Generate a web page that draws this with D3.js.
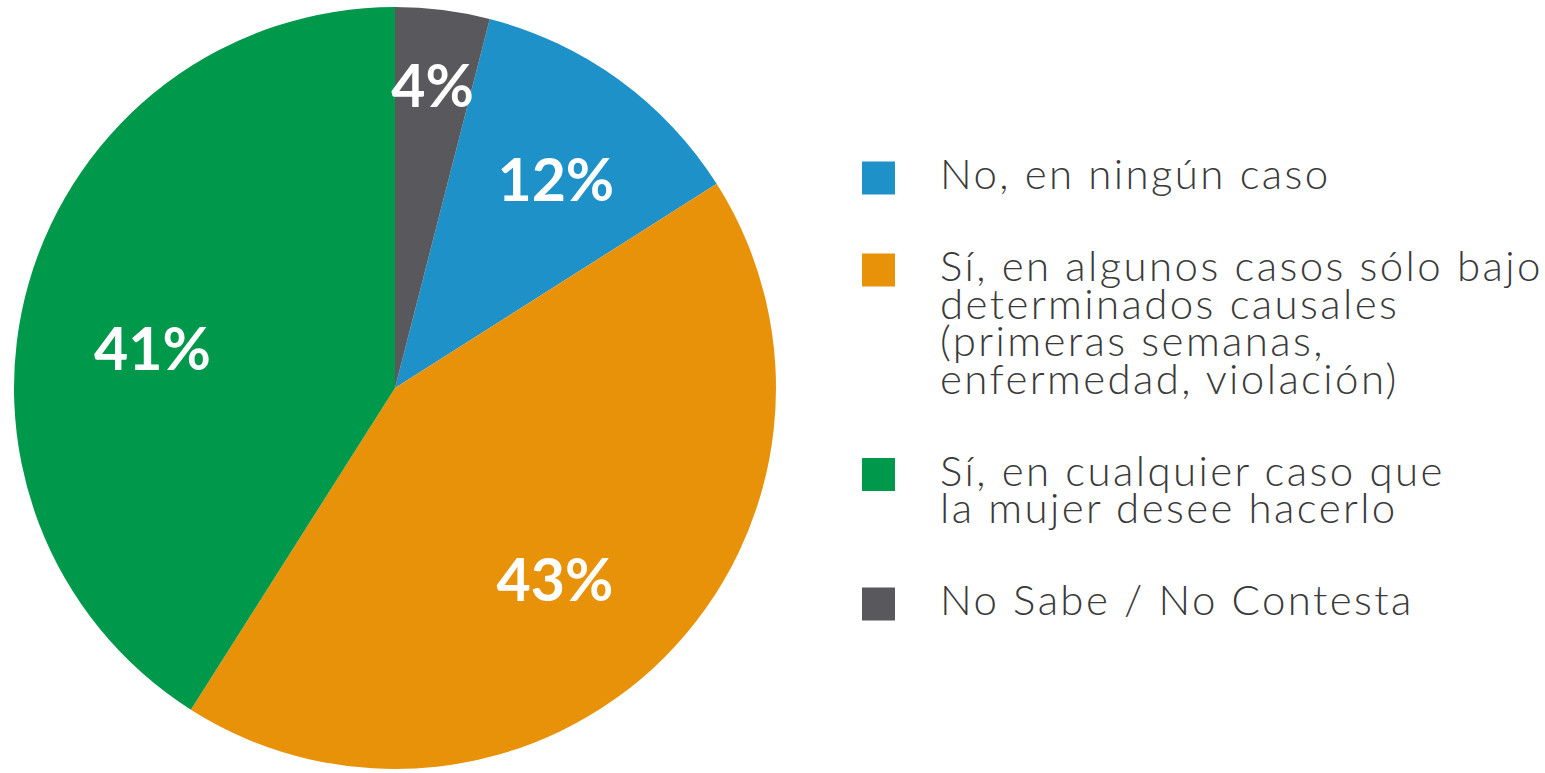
<!DOCTYPE html>
<html>
<head>
<meta charset="utf-8">
<script src="https://cdn.jsdelivr.net/npm/d3@7"></script>
<style>
  html, body { margin: 0; padding: 0; background: #fff; }
  svg { display: block; }
</style>
</head>
<body>
<div id="chart"></div>
<script>
// legend order; pie starts with the last one (grey) at 12 o'clock
const categories = [
    ["No, en ningún caso"],
    ["Sí, en algunos casos sólo bajo", "determinados causales", "(primeras semanas,", "enfermedad, violación)"],
    ["Sí, en cualquier caso que", "la mujer desee hacerlo"],
    ["No Sabe / No Contesta"]
];
const values = [12, 43, 41, 4];
const colors = ["#1e91c8", "#e8920a", "#00984a", "#59585c"];

const width = 1545, height = 773;
const cx = 395, cy = 388, radius = 381;

// hand tweaks so the % labels sit where the original has them
const labelNudge = [[8, 2], [-24, 8], [7, 34], [5, -44]];

const svg = d3.select("#chart")
    .append("svg")
    .attr("width", width)
    .attr("height", height);

const total = d3.sum(values);
const start = values[3] / total * 2 * Math.PI;

const pie = d3.pie()
    .sort(null)
    .value(d => d)
    .startAngle(start)
    .endAngle(start + 2 * Math.PI);

const arc = d3.arc().innerRadius(0).outerRadius(radius);
const labelArc = d3.arc().innerRadius(260).outerRadius(260);

const g = svg.append("g").attr("transform", `translate(${cx},${cy})`);
const arcs = pie(values);

g.selectAll("path")
    .data(arcs)
    .enter().append("path")
    .attr("d", arc)
    .attr("fill", (d, i) => colors[i]);

g.selectAll("text.pct")
    .data(arcs)
    .enter().append("text")
    .attr("class", "pct")
    .attr("x", (d, i) => labelArc.centroid(d)[0] + labelNudge[i][0])
    .attr("y", (d, i) => labelArc.centroid(d)[1] + labelNudge[i][1] + 21)
    .attr("text-anchor", "middle")
    .style("font-family", "Lato, sans-serif")
    .style("font-weight", "700")
    .style("font-size", "59px")
    .style("fill", "#fff")
    .text(d => d.value + "%");

// legend
const lineH = 37.5, rowGap = 92;
let y = 189;
const legend = svg.append("g");
categories.forEach((lines, i) => {
    const row = legend.append("g");
    row.append("rect")
        .attr("x", 862)
        .attr("y", y - 11 - 16.5)
        .attr("width", 33)
        .attr("height", 33)
        .attr("fill", colors[i]);
    const t = row.append("text")
        .attr("x", 940)
        .attr("y", y)
        .style("font-family", "Lato, sans-serif")
        .style("font-weight", "300")
        .style("font-size", "42px")
        .style("letter-spacing", "2.4px")
        .style("fill", "#3a3a3a");
    lines.forEach((s, j) => {
        t.append("tspan")
            .attr("x", 940)
            .attr("dy", j === 0 ? 0 : lineH)
            .text(s);
    });
    y += rowGap + (lines.length - 1) * lineH;
});
</script>
</body>
</html>
